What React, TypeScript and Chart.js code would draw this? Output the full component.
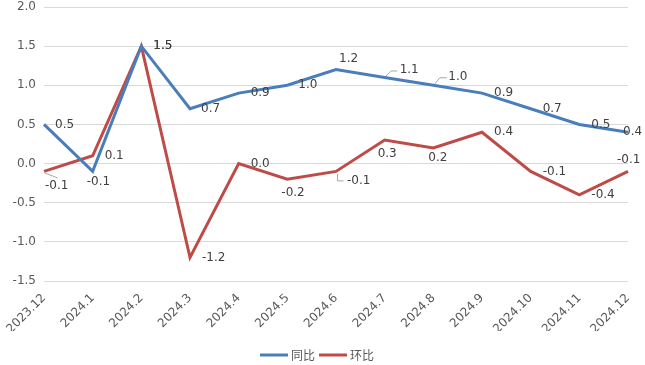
import React, { useEffect, useRef } from "react";
import { Chart, registerables } from "chart.js";

Chart.register(...registerables);

const categories = ["2023.12", "2024.1", "2024.2", "2024.3", "2024.4", "2024.5", "2024.6", "2024.7", "2024.8", "2024.9", "2024.10", "2024.11", "2024.12"];
const yoyValues = [0.5, -0.1, 1.5, 0.7, 0.9, 1.0, 1.2, 1.1, 1.0, 0.9, 0.7, 0.5, 0.4];
const momValues = [-0.1, 0.1, 1.5, -1.2, 0.0, -0.2, -0.1, 0.3, 0.2, 0.4, -0.1, -0.4, -0.1];
const seriesNames = ["同比", "环比"];
const yTicks = [-1.5, -1.0, -0.5, 0.0, 0.5, 1.0, 1.5, 2.0];

const BLUE = "#4A7EBB";
const RED = "#BE4B48";

// label placement relative to point: [dx, dy]
const yoyLabelPos: [number, number][] = [
  [11, 0], [-6, 10], [12, 0], [11, 0], [12, 0], [11, 0],
  [3, -11], [15, -8], [15, -8], [12, 0], [12, 0], [12, 0], [-5, 0],
];
const momLabelPos: [number, number][] = [
  [1, 14], [12, 0], [12, 0], [12, 0], [12, 0], [-6, 14],
  [11, 9], [-7, 14], [-5, 10], [12, 0], [12, 0], [12, 0], [-11, -12],
];
// leader line polylines relative to point
const yoyLeaders: ([number, number][] | null)[] = [
  null, null, null, null, null, null, null,
  [[1, -2], [6, -7], [12, -7]],
  [[1, -2], [6, -8], [13, -8]],
  null, null, null, null,
];
const momLeaders: ([number, number][] | null)[] = [
  [[0, 1], [13, 6]], null, null, null, null, null,
  [[1, 2], [1, 9], [7, 9]],
  null, null, null, null, null, null,
];

const labelPlugin = {
  id: "valueLabels",
  afterDatasetsDraw(chart: any) {
    const ctx = chart.ctx;
    const placements = [yoyLabelPos, momLabelPos];
    const leaders = [yoyLeaders, momLeaders];
    ctx.save();
    ctx.font = "12px 'DejaVu Sans'";
    ctx.textBaseline = "middle";
    ctx.textAlign = "left";
    chart.data.datasets.forEach((ds: any, di: number) => {
      const meta = chart.getDatasetMeta(di);
      meta.data.forEach((pt: any, i: number) => {
        const v = ds.data[i];
        const [dx, dy] = placements[di][i];
        const leader = leaders[di][i];
        if (leader) {
          ctx.strokeStyle = "#A6A6A6";
          ctx.lineWidth = 1;
          ctx.beginPath();
          leader.forEach(([lx, ly], k) => {
            if (k === 0) ctx.moveTo(pt.x + lx + 0.5, pt.y + ly + 0.5);
            else ctx.lineTo(pt.x + lx + 0.5, pt.y + ly + 0.5);
          });
          ctx.stroke();
        }
        ctx.fillStyle = "#404040";
        ctx.fillText(Number(v).toFixed(1), pt.x + dx, pt.y + dy);
      });
    });
    ctx.restore();
  },
};

const legendPlugin = {
  id: "customLegend",
  afterDraw(chart: any) {
    const ctx = chart.ctx;
    ctx.save();
    ctx.font = "12px 'Noto Sans CJK SC'";
    ctx.textBaseline = "middle";
    ctx.textAlign = "left";
    const colors = [BLUE, RED];
    const lineW = 28;
    const widths = seriesNames.map((n) => ctx.measureText(n).width);
    const total = widths.reduce((a, w) => a + lineW + 4 + w, 0) + 3;
    let x = chart.width / 2 - 5 - total / 2;
    const y = 355;
    seriesNames.forEach((n, i) => {
      ctx.strokeStyle = colors[i];
      ctx.lineWidth = 3;
      ctx.beginPath();
      ctx.moveTo(x, y);
      ctx.lineTo(x + lineW, y);
      ctx.stroke();
      ctx.fillStyle = "#595959";
      ctx.fillText(n, x + lineW + 3, y);
      x += lineW + 4 + widths[i] + 3;
    });
    ctx.restore();
  },
};

export default function App() {
  const ref = useRef<HTMLCanvasElement | null>(null);
  useEffect(() => {
    if (!ref.current) return;
    const chart = new Chart(ref.current, {
      type: "line",
      data: {
        labels: categories,
        datasets: [
          { label: seriesNames[0], data: yoyValues, borderColor: BLUE, backgroundColor: BLUE, borderWidth: 3, pointRadius: 0, tension: 0 },
          { label: seriesNames[1], data: momValues, borderColor: RED, backgroundColor: RED, borderWidth: 3, pointRadius: 0, tension: 0 },
        ],
      },
      options: {
        animation: false,
        responsive: true,
        maintainAspectRatio: false,
        layout: { padding: { top: 7, right: 17, bottom: 34, left: 0 } },
        plugins: { legend: { display: false }, tooltip: { enabled: false } },
        scales: {
          x: {
            offset: false,
            grid: { display: false, drawTicks: false },
            border: { display: false },
            ticks: {
              autoSkip: false,
              minRotation: 45,
              maxRotation: 45,
              padding: 10,
              color: "#595959",
              font: { family: "'DejaVu Sans'", size: 12 },
            },
            afterFit: (s: any) => { s.height = 50; s.paddingTop = 0; s.paddingRight = 0; s.paddingLeft = 0; },
          },
          y: {
            min: -1.5,
            max: 2.0,
            afterBuildTicks: (s: any) => { s.ticks = yTicks.map((v) => ({ value: v })); },
            grid: { color: "#D9D9D9", drawTicks: false, lineWidth: 1 },
            border: { display: false },
            ticks: {
              padding: 8,
              color: "#595959",
              font: { family: "'DejaVu Sans'", size: 12 },
              callback: (v: any) => Number(v).toFixed(1),
            },
            afterFit: (s: any) => { s.width = 44; s.paddingTop = 0; s.paddingBottom = 0; },
          },
        },
      },
      plugins: [labelPlugin, legendPlugin],
    });
    return () => chart.destroy();
  }, []);
  return (
    <div style={{ position: "fixed", left: 0, top: 0, width: 645, height: 365, background: "#fff" }}>
      <canvas ref={ref} />
    </div>
  );
}
